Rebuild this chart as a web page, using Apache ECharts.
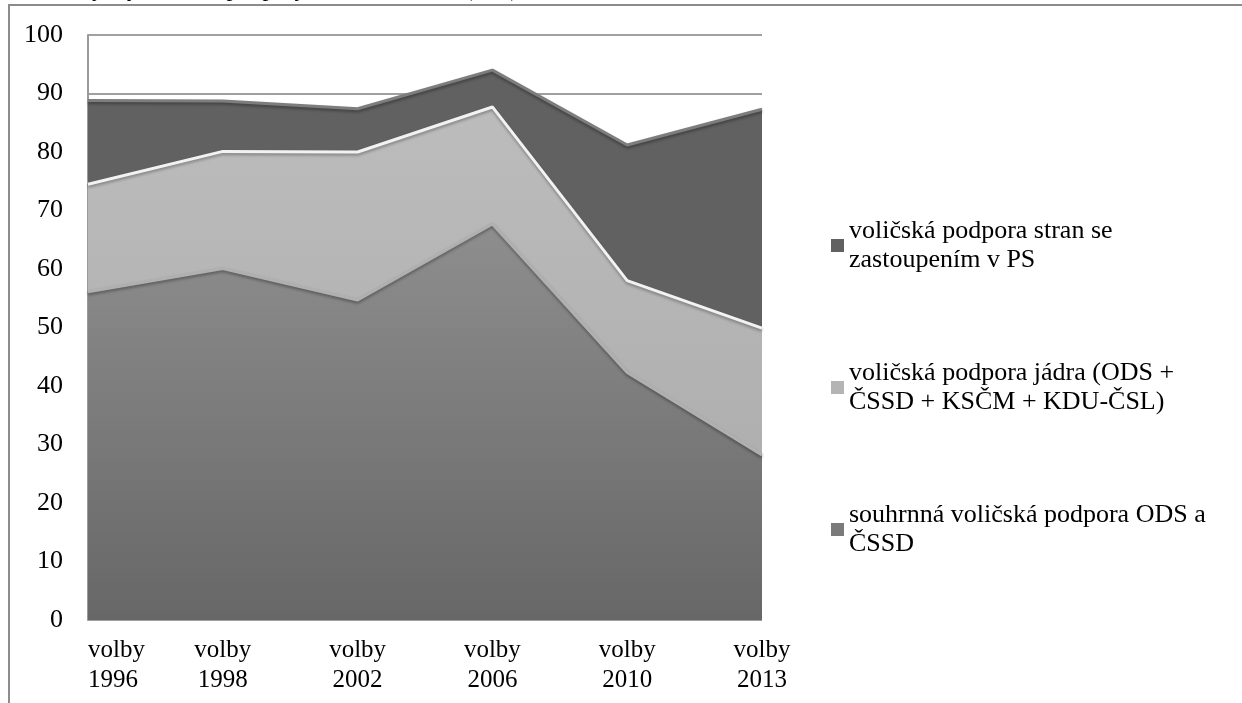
<!DOCTYPE html>
<html>
<head>
<meta charset="utf-8">
<script src="https://cdn.jsdelivr.net/npm/echarts@6/dist/echarts.min.js"></script>
<style>
html,body{margin:0;padding:0;background:#fff;}
#chart{width:1242px;height:703px;}
</style>
</head>
<body>
<div id="chart"></div>
<script>
var titleText = 'Graf 1: Vývoj voličské podpory stabilních stran (v %)';
var categories = ['volby\n1996', 'volby\n1998', 'volby\n2002', 'volby\n2006', 'volby\n2010', 'volby\n2013'];
var seriesNames = [
  'voličská podpora stran se zastoupením v PS',
  'voličská podpora jádra (ODS + ČSSD + KSČM + KDU-ČSL)',
  'souhrnná voličská podpora ODS a ČSSD'
];
var legendLabels = [
  'voličská podpora stran se\nzastoupením v PS',
  'voličská podpora jádra (ODS +\nČSSD + KSČM + KDU-ČSL)',
  'souhrnná voličská podpora ODS a\nČSSD'
];
var partiesInPS = [88.8, 88.7, 87.4, 94.0, 81.2, 87.3];
var coreSupport = [74.5, 80.1, 80.0, 87.7, 58.0, 49.9];
var odsCssd = [56.1, 60.1, 54.7, 67.7, 42.3, 28.2];
var yTicks = { min: 0, max: 100, interval: 10 };

var FONT = "'Liberation Serif', 'Times New Roman', serif";
var chart = echarts.init(document.getElementById('chart'), null, { renderer: 'canvas' });

function bevelLine(color, shadow) {
  return {
    color: color, width: 3,
    shadowColor: shadow, shadowBlur: 3, shadowOffsetY: 2
  };
}

chart.setOption({
  animation: false,
  backgroundColor: '#fff',
  title: {
    text: titleText,
    left: 0, top: -22,
    padding: 0,
    textStyle: { fontFamily: FONT, fontSize: 24, fontWeight: 'normal', color: '#000' }
  },
  graphic: [{
    type: 'rect',
    shape: { x: 9, y: 5, width: 1400, height: 900 },
    style: { fill: 'none', stroke: '#8c8c8c', lineWidth: 2 },
    silent: true
  }],
  grid: { left: 88, right: 480, top: 35, bottom: 83 },
  legend: {
    orient: 'vertical',
    left: 831, top: 202,
    padding: 0,
    itemGap: 55,
    itemWidth: 13, itemHeight: 13,
    icon: 'rect',
    data: seriesNames,
    formatter: function (name) { return legendLabels[seriesNames.indexOf(name)]; },
    textStyle: {
      fontFamily: FONT, fontSize: 26, color: '#000',
      lineHeight: 29,
      padding: [29, 0, 0, 0]
    }
  },
  xAxis: {
    type: 'category',
    data: categories,
    boundaryGap: false,
    axisLine: { show: false },
    axisTick: { show: false },
    axisLabel: {
      fontFamily: FONT, fontSize: 25, color: '#000', lineHeight: 30, margin: 15,
      interval: 0, alignMinLabel: 'left'
    },
    splitLine: { show: false }
  },
  yAxis: {
    type: 'value',
    min: yTicks.min, max: yTicks.max, interval: yTicks.interval,
    axisLine: { show: true, lineStyle: { color: '#9a9a9a', width: 2 } },
    axisTick: { show: false },
    axisLabel: { fontFamily: FONT, fontSize: 26, color: '#000', margin: 25 },
    splitLine: { show: true, lineStyle: { color: '#a0a0a0', width: 2 } }
  },
  series: [
    {
      name: seriesNames[0], type: 'line', data: partiesInPS,
      symbol: 'none', z: 2,
      itemStyle: { color: '#616161' },
      lineStyle: bevelLine('#7d7d7d', 'rgba(0,0,0,0.35)'),
      areaStyle: { color: '#616161', opacity: 1 }
    },
    {
      name: seriesNames[1], type: 'line', data: coreSupport,
      symbol: 'none', z: 3,
      itemStyle: { color: '#b4b4b4' },
      lineStyle: bevelLine('#f2f2f2', 'rgba(0,0,0,0.3)'),
      areaStyle: {
        opacity: 1,
        color: new echarts.graphic.LinearGradient(0, 0, 0, 1, [
          { offset: 0, color: '#bcbcbc' }, { offset: 1, color: '#a9a9a9' }
        ])
      }
    },
    {
      name: seriesNames[2], type: 'line', data: odsCssd,
      symbol: 'none', z: 4,
      itemStyle: { color: '#7a7a7a' },
      lineStyle: bevelLine('#b0b0b0', 'rgba(0,0,0,0.35)'),
      areaStyle: {
        opacity: 1,
        color: new echarts.graphic.LinearGradient(0, 0, 0, 1, [
          { offset: 0, color: '#8e8e8e' }, { offset: 1, color: '#676767' }
        ])
      }
    }
  ]
});
</script>
</body>
</html>
